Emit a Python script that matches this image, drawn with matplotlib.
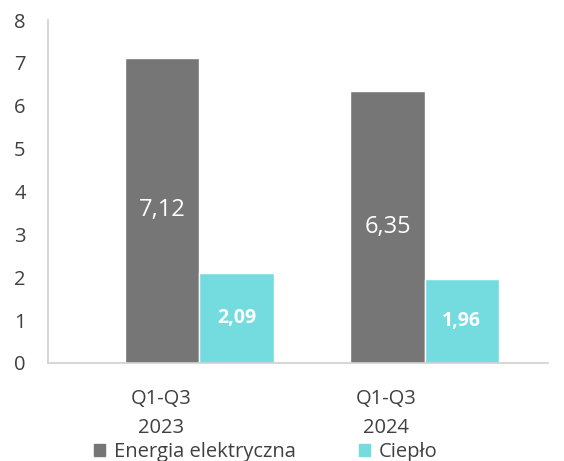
import numpy as np
import matplotlib.pyplot as plt
from matplotlib.patches import Patch

periods = ['Q1-Q3\n2023', 'Q1-Q3\n2024']
energia = [7.12, 6.35]
cieplo = [2.09, 1.96]
series_names = ['Energia elektryczna', 'Ciepło']
colors = ['#767676', '#74DBDF']

plt.rcParams['font.family'] = ['Open Sans', 'DejaVu Sans']

fig = plt.figure(figsize=(5.64, 4.61), dpi=100)
ax = fig.add_axes([0.085, 0.2126, 0.887, 0.744])

x = np.arange(len(periods))
w = 0.33
b1 = ax.bar(x - w / 2, energia, w, color=colors[0], edgecolor='white', linewidth=1)
b2 = ax.bar(x + w / 2, cieplo, w, color=colors[1], edgecolor='white', linewidth=1)

for bars, vals, fs, fw in [(b1, energia, 17, 'normal'), (b2, cieplo, 14, 'bold')]:
    for r, v in zip(bars, vals):
        ax.text(r.get_x() + r.get_width() / 2, v / 2, f'{v:.2f}'.replace('.', ','),
                ha='center', va='center', color='white', fontsize=fs, fontweight=fw)

ax.set_xlim(-0.673, 1.549)
ax.set_ylim(0, 8)
ax.set_yticks(range(9))
ax.set_xticks(x - 0.171)
ax.set_xticklabels(periods, linespacing=1.55)
ax.tick_params(axis='both', length=0, labelsize=14.5, colors='#404040')
ax.tick_params(axis='y', pad=16)
ax.tick_params(axis='x', pad=19)
for s in ['top', 'right']:
    ax.spines[s].set_visible(False)
for s in ['left', 'bottom']:
    ax.spines[s].set_color('#d0d0d0')
    ax.spines[s].set_linewidth(1.2)

handles = [Patch(color=c) for c in colors]
fig.legend(handles, series_names, loc='lower left', bbox_to_anchor=(0.135, -0.042),
           ncol=2, frameon=False, fontsize=14.5, handlelength=0.55, handleheight=0.55,
           handletextpad=0.45, columnspacing=3.1, labelcolor='#404040')

fig.savefig('out.png', dpi=100)
